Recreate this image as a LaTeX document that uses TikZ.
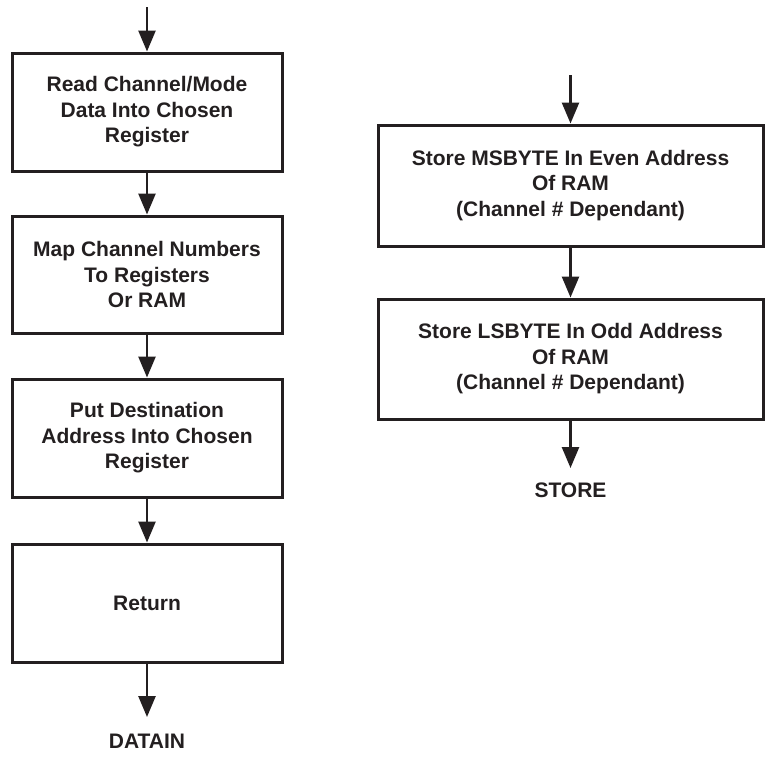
\documentclass[tikz,border=0pt]{standalone}
\usepackage{fontspec}
\setmainfont{Liberation Sans}
\usetikzlibrary{arrows.meta}
\definecolor{ink}{HTML}{231F20}
\begin{document}
\begin{tikzpicture}[x=1pt,y=-1pt,
  every node/.style={font=\bfseries\fontsize{21}{25.5}\selectfont, text=ink},
  procbox/.style={draw=ink, line width=3pt, rectangle, align=center, inner sep=0pt},
  leftbox/.style={procbox, minimum width=270pt},
  rightbox/.style={procbox, minimum width=385pt},
  flow/.style={draw=ink, line width=2.6pt, -{Triangle[width=17pt,length=21pt]}},
  endlabel/.style={inner sep=0pt}]
  \useasboundingbox (0,0) rectangle (770,761);

  % left column: DATAIN routine
  \coordinate (lin) at (147,7);
  \node[leftbox, minimum height=118pt] (read) at (147,112)
    {Read Channel/Mode\\Data Into Chosen\\Register};
  \node[leftbox, minimum height=117pt] (map) at (147,274.5)
    {Map Channel Numbers\\To Registers\\Or RAM};
  \node[leftbox, minimum height=118pt] (dest) at (147,438)
    {Put Destination\\Address Into Chosen\\Register};
  \node[leftbox, minimum height=118pt] (ret) at (147,603) {Return};
  \coordinate (lout) at (147,717);
  \node[endlabel] (datain) at (147,741) {DATAIN};

  \draw[flow] (lin) -- (read.north);
  \draw[flow] (read) -- (map);
  \draw[flow] (map) -- (dest);
  \draw[flow] (dest) -- (ret);
  \draw[flow] (ret.south) -- (lout);

  % right column: STORE routine
  \coordinate (rin) at (570.5,75);
  \node[rightbox, minimum height=121pt] (msb) at (570.5,185.5)
    {Store MSBYTE In Even Address\\Of RAM\\(Channel \# Dependant)};
  \node[rightbox, minimum height=120pt] (lsb) at (570.5,359)
    {Store LSBYTE In Odd Address\\Of RAM\\(Channel \# Dependant)};
  \coordinate (rout) at (570.5,468);
  \node[endlabel] (store) at (570.5,490) {STORE};

  \draw[flow] (rin) -- (msb.north);
  \draw[flow] (msb) -- (lsb);
  \draw[flow] (lsb.south) -- (rout);
\end{tikzpicture}
\end{document}
